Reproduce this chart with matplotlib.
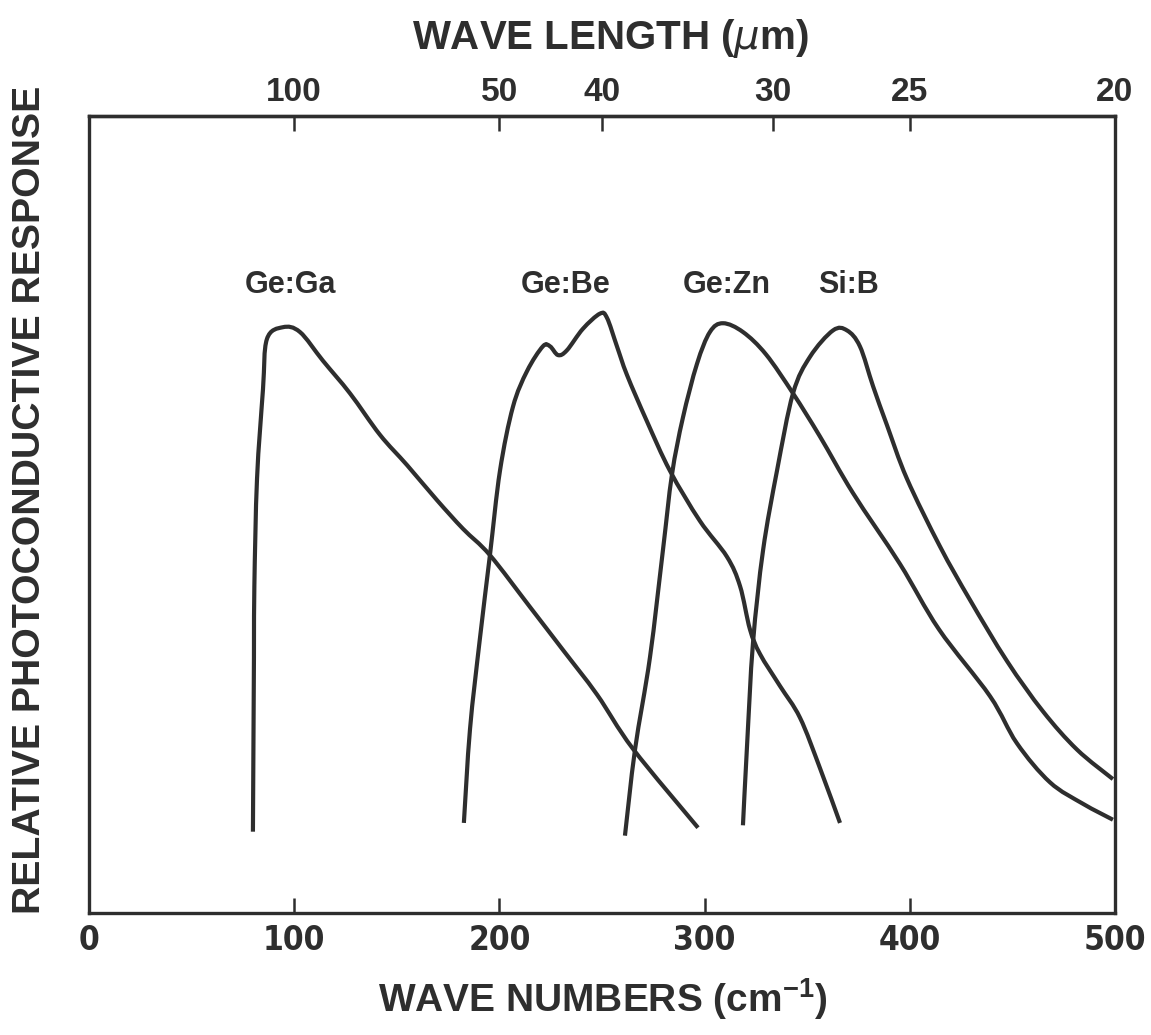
import matplotlib
matplotlib.use("Agg")
import matplotlib.pyplot as plt
import numpy as np
from matplotlib.path import Path
from matplotlib.patches import PathPatch

# curves (x in cm^-1, y in relative units 0..100)
gega_x = [79.9, 80.4, 80.6, 81.9, 84.8, 86.7, 94.5, 102.8, 114.0, 127.2, 141.8, 155.0,
          169.6, 182.3, 195.4, 214.9, 231.0, 247.6, 265.1, 296.8]
gega_y = [10.2, 32.1, 41.0, 54.5, 65.7, 72.0, 73.5, 72.9, 69.3, 65.2, 60.0, 56.2,
          51.8, 48.2, 44.9, 38.4, 33.0, 27.4, 20.6, 10.7]

gebe_x = [182.7, 185.7, 190.5, 195.4, 200.3, 206.6, 213.5, 221.2, 224.7, 228.6, 232.9,
          240.7, 249.0, 252.4, 257.3, 262.2, 271.9, 283.1, 297.7, 310.9, 317.3, 322.1,
          327.0, 336.7, 346.5, 356.2, 366.0]
gebe_y = [11.3, 23.1, 34.4, 44.9, 55.5, 63.5, 68.0, 71.1, 71.1, 70.0, 70.6,
          73.3, 75.2, 74.7, 71.1, 67.5, 61.7, 55.5, 49.2, 44.7, 41.0, 35.6,
          32.5, 28.5, 24.5, 18.2, 11.3]

gezn_x = [261.2, 266.1, 273.4, 279.7, 284.1, 289.4, 296.3, 302.6, 309.0, 318.7, 329.9,
          343.1, 356.2, 372.3, 395.2, 414.2, 439.1, 452.2, 468.3, 484.4, 499.0]
gezn_y = [9.7, 20.5, 32.1, 45.5, 55.0, 62.1, 68.9, 72.9, 74.0, 72.9, 70.1,
          65.2, 59.8, 52.7, 43.8, 35.6, 27.2, 21.3, 16.4, 13.7, 11.7]

sib_x = [318.7, 320.7, 323.6, 328.5, 335.3, 343.1, 351.4, 362.6, 369.4, 375.7, 382.1,
         388.9, 398.6, 414.7, 429.3, 447.4, 464.9, 481.5, 499.0]
sib_y = [11.0, 21.0, 33.9, 45.5, 55.5, 65.2, 69.8, 73.1, 73.1, 71.1, 66.1,
         61.2, 54.5, 46.0, 39.3, 31.6, 25.3, 20.5, 16.8]

names = ["Ge:Ga", "Ge:Be", "Ge:Zn", "Si:B"]
name_x = [98, 232.5, 311, 370]
name_y = 78.8

wavenumbers = [0, 100, 200, 300, 400, 500]
wavelengths = [100, 50, 40, 30, 25, 20]

ink = "#2e2e2e"
wide = ["Liberation Sans", "DejaVu Sans"]


def smooth_path(xs, ys):
    """Catmull-Rom through the read points, as cubic bezier segments."""
    p = np.column_stack([xs, ys])
    verts = [p[0]]
    codes = [Path.MOVETO]
    n = len(p)
    for i in range(n - 1):
        p0 = p[i - 1] if i > 0 else p[i]
        p1, p2 = p[i], p[i + 1]
        p3 = p[i + 2] if i + 2 < n else p[i + 1]
        verts += [p1 + (p2 - p0) / 6, p2 - (p3 - p1) / 6, p2]
        codes += [Path.CURVE4] * 3
    return Path(verts, codes)


fig = plt.figure(figsize=(11.51, 10.35), dpi=100)
ax = fig.add_axes([0.0773, 0.1179, 0.8914, 0.770])

for xs, ys in [(gega_x, gega_y), (gebe_x, gebe_y), (gezn_x, gezn_y), (sib_x, sib_y)]:
    ax.add_patch(PathPatch(smooth_path(xs, ys), fill=False, edgecolor=ink,
                           lw=3.0, capstyle="butt", joinstyle="round"))

for n, x in zip(names, name_x):
    ax.text(x, name_y, n, ha="center", va="center", fontsize=22,
            fontweight="bold", family=wide, color=ink)

ax.set_xlim(0, 500)
ax.set_ylim(0, 100)
ax.set_yticks([])
ax.set_xticks(wavenumbers)
ax.set_xticklabels([str(w) for w in wavenumbers], family="DejaVu Sans",
                   fontstretch="condensed", fontweight="bold", fontsize=24, color=ink)
ax.tick_params(axis="x", direction="in", length=11, width=1.8, color=ink, pad=8)

top = ax.secondary_xaxis("top")
top.set_xticks([1e4 / w for w in wavelengths])
top.set_xticklabels([str(w) for w in wavelengths], family=wide,
                    fontweight="bold", fontsize=24, color=ink)
top.tick_params(axis="x", direction="in", length=11, width=1.8, color=ink, pad=6)
top.spines["top"].set_linewidth(2.4)
top.spines["top"].set_color(ink)

for s in ax.spines.values():
    s.set_linewidth(2.4)
    s.set_color(ink)

fig.text(0.530, 0.963, "WAVE LENGTH ($\\mu$m)", ha="center", va="center",
         fontsize=29, fontweight="bold", family=wide, color=ink)
fig.text(0.524, 0.035, "WAVE NUMBERS (cm$^{\\mathregular{-1}}$)", ha="center",
         va="center", fontsize=28, fontweight="bold", family=wide, color=ink)
fig.text(0.026, 0.517, "RELATIVE PHOTOCONDUCTIVE RESPONSE", ha="center",
         va="center", rotation=90, fontsize=28.3, fontweight="bold",
         family=wide, color=ink)

fig.savefig("out.png", dpi=100, facecolor="white")
